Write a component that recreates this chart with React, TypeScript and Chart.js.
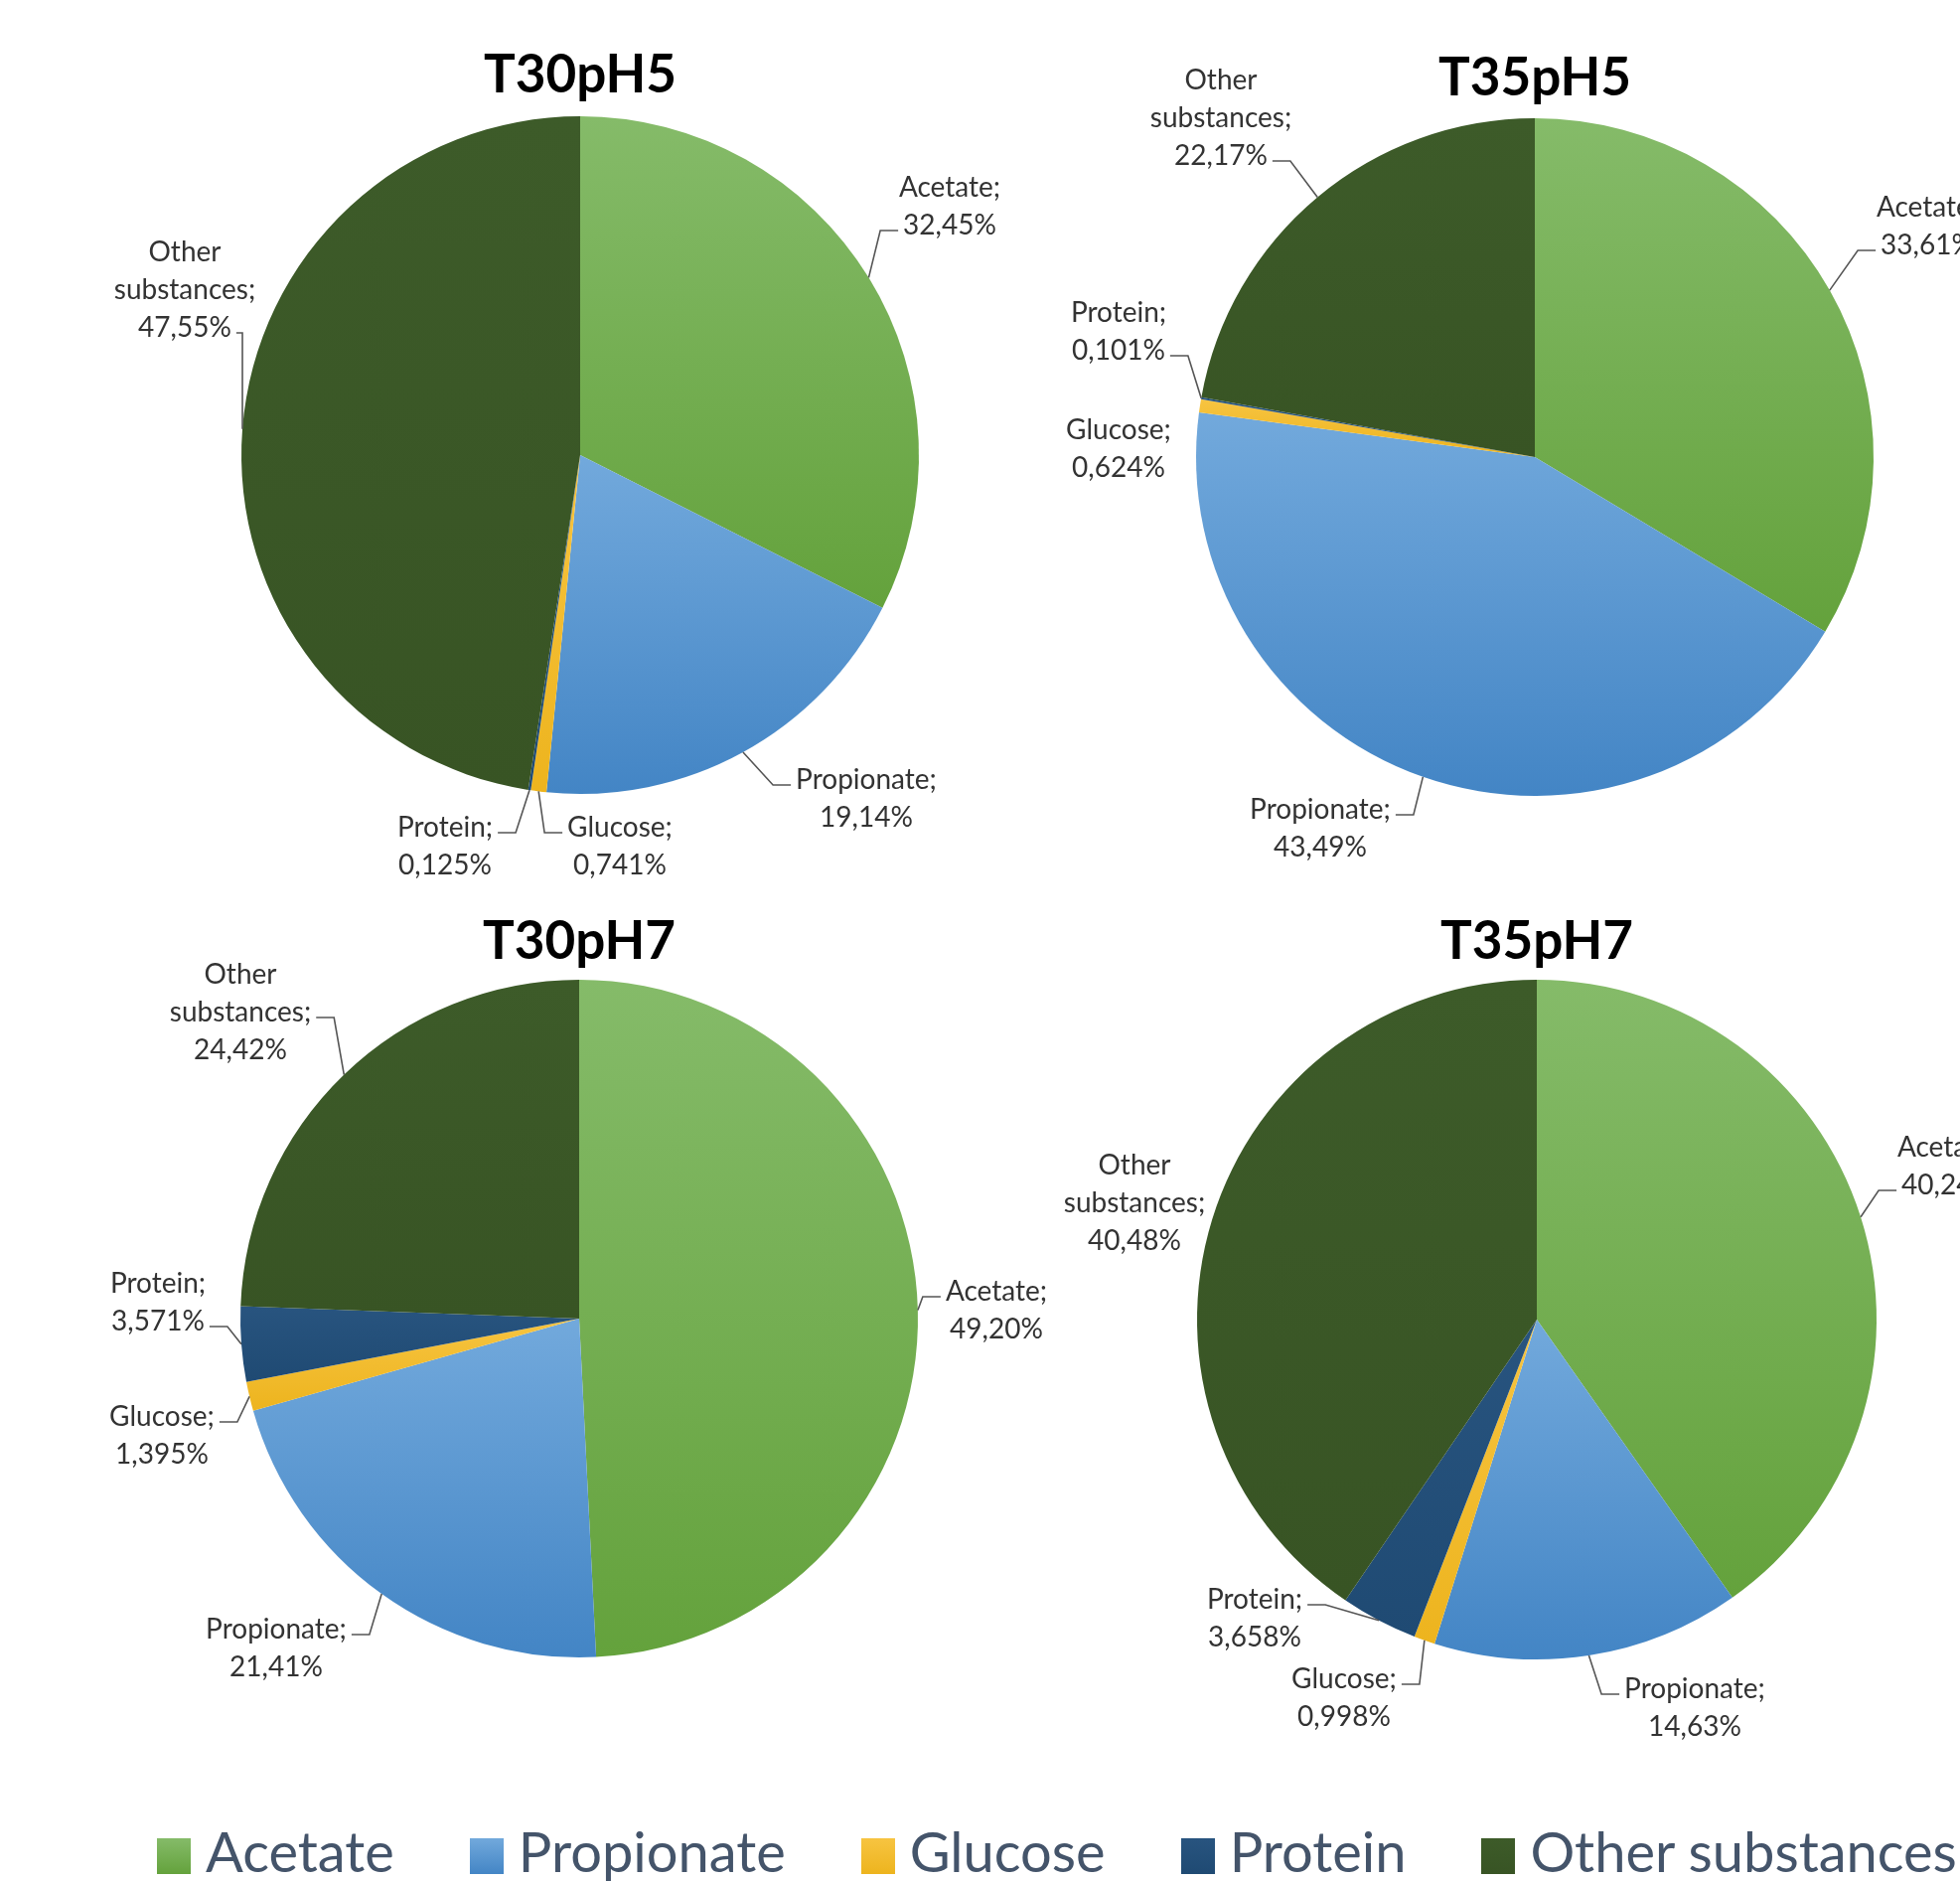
import React, { useEffect, useRef } from "react";
import { Chart, registerables } from "chart.js";

Chart.register(...registerables);

// ---------- data ----------
const categories = ["Acetate", "Propionate", "Glucose", "Protein", "Other substances"];
const chartTitles = ["T30pH5", "T35pH5", "T30pH7", "T35pH7"];
const t30pH5 = [32.45, 19.14, 0.741, 0.125, 47.55];
const t35pH5 = [33.61, 43.49, 0.624, 0.101, 22.17];
const t30pH7 = [49.2, 21.41, 1.395, 3.571, 24.42];
const t35pH7 = [40.24, 14.63, 0.998, 3.658, 40.48];
const seriesValues = [t30pH5, t35pH5, t30pH7, t35pH7];

// ---------- styles ----------
const colorsTop = ["#85BB69", "#72A9DC", "#F7C441", "#28547F", "#3D5B29"];
const colorsBottom = ["#64A23C", "#4385C5", "#EDB41E", "#1F4A73", "#385424"];
const FONT = "Lato, 'Open Sans', 'DejaVu Sans', sans-serif";

// panel geometry (page px)
const panels = [
  { left: 94, top: 0, w: 980, h: 900, cx: 584, cy: 458, r: 341, titleY: 76 },
  { left: 1055, top: 0, w: 980, h: 900, cx: 1545, cy: 460, r: 341, titleY: 79 },
  { left: 93, top: 880, w: 980, h: 930, cx: 583, cy: 1327, r: 341, titleY: 948 },
  { left: 1057, top: 880, w: 980, h: 930, cx: 1547, cy: 1328, r: 342, titleY: 948 },
];

// label placement: offset of label block centre from pie centre (px)
type LabelPos = { dx: number; dy: number; leader?: boolean; line?: number };
const labelLayouts: LabelPos[][] = [
  [
    { dx: 372, dy: -250 },
    { dx: 288, dy: 346 },
    { dx: 40, dy: 394 },
    { dx: -136, dy: 394 },
    { dx: -398, dy: -166 },
  ],
  [
    { dx: 395, dy: -232 },
    { dx: -216, dy: 374 },
    { dx: -419, dy: -8, leader: false },
    { dx: -419, dy: -126 },
    { dx: -316, dy: -341 },
  ],
  [
    { dx: 420, dy: -8 },
    { dx: -305, dy: 332 },
    { dx: -420, dy: 118 },
    { dx: -424, dy: -16 },
    { dx: -341, dy: -308, line: 1 },
  ],
  [
    { dx: 414, dy: -154 },
    { dx: 159, dy: 391 },
    { dx: -194, dy: 381 },
    { dx: -284, dy: 301, line: 0 },
    { dx: -405, dy: -117, leader: false },
  ],
];

const LABEL_SIZE = 28;
const LINE_GAP = 38;
const TITLE_SIZE = 53;
const TITLE_LH = 1.2;

function formatValue(v: number): string {
  const s = v >= 10 ? v.toFixed(2) : v.toFixed(3);
  return s.replace(".", ",") + "%";
}

function labelLines(name: string, v: number): string[] {
  const words = name.split(" ");
  words[words.length - 1] = words[words.length - 1] + ";";
  return [...words, formatValue(v)];
}

// bounding vertical range of a pie sector, for per-slice gradients
function sectorYRange(cy: number, r: number, a0: number, a1: number) {
  const ys = [cy, cy + r * Math.sin(a0), cy + r * Math.sin(a1)];
  for (const k of [-Math.PI / 2, Math.PI / 2, (3 * Math.PI) / 2]) {
    if (k >= a0 && k <= a1) ys.push(cy + r * Math.sin(k));
  }
  return [Math.min(...ys), Math.max(...ys)];
}

function makeLabelPlugin(layout: LabelPos[]) {
  return {
    id: "sliceLabels",
    afterDatasetsDraw(chart: any) {
      const meta = chart.getDatasetMeta(0);
      const values: number[] = chart.data.datasets[0].data;
      const ctx: CanvasRenderingContext2D = chart.ctx;
      ctx.save();
      ctx.font = `${LABEL_SIZE}px ${FONT}`;
      ctx.textAlign = "center";
      ctx.textBaseline = "middle";
      meta.data.forEach((arc: any, i: number) => {
        const p = arc.getProps(["x", "y", "startAngle", "endAngle", "outerRadius"], true);
        const lay = layout[i];
        const lines = labelLines(chart.data.labels[i], values[i]);
        const lx = p.x + lay.dx;
        const ly = p.y + lay.dy;
        const n = lines.length;
        const lineYs = lines.map((_, k) => ly + (k - (n - 1) / 2) * LINE_GAP);
        ctx.fillStyle = "#333333";
        lines.forEach((t, k) => ctx.fillText(t, lx, lineYs[k]));

        if (lay.leader === false) return;
        const mid = (p.startAngle + p.endAngle) / 2;
        const ax = p.x + Math.cos(mid) * p.outerRadius;
        const ay = p.y + Math.sin(mid) * p.outerRadius;
        let li = lay.line;
        if (li === undefined) {
          li = 0;
          lineYs.forEach((yy, k) => {
            if (Math.abs(yy - ay) < Math.abs(lineYs[li!] - ay)) li = k;
          });
        }
        const wLine = ctx.measureText(lines[li]).width;
        const side = ax < lx ? -1 : 1;
        const attX = lx + side * (wLine / 2 + 5);
        const attY = lineYs[li] + 5;
        const stub = Math.min(18, Math.abs(ax - attX));
        const elbowX = attX + side * stub;
        ctx.strokeStyle = "#555555";
        ctx.lineWidth = 1.6;
        ctx.beginPath();
        ctx.moveTo(ax, ay);
        ctx.lineTo(elbowX, attY);
        ctx.lineTo(attX, attY);
        ctx.stroke();
      });
      ctx.restore();
    },
  };
}

function PiePanel({ index }: { index: number }) {
  const ref = useRef<HTMLCanvasElement>(null);
  const pn = panels[index];
  useEffect(() => {
    const canvas = ref.current;
    if (!canvas) return;
    const lh = TITLE_SIZE * TITLE_LH;
    const padTop = pn.titleY - pn.top - lh / 2;
    const padBottom = pn.cy - pn.r - pn.top - padTop - lh;
    const side = (pn.w - 2 * pn.r) / 2;
    const bottom = pn.h - (pn.cy + pn.r - pn.top);
    const values = seriesValues[index];

    const bg = (c: any) => {
      const i = c.dataIndex;
      const chart = c.chart;
      const area = chart.chartArea;
      if (i === undefined || !area) return colorsTop[i ?? 0];
      const total = values.reduce((a, b) => a + b, 0);
      let acc = 0;
      for (let k = 0; k < i; k++) acc += values[k];
      const a0 = -Math.PI / 2 + (acc / total) * 2 * Math.PI;
      const a1 = a0 + (values[i] / total) * 2 * Math.PI;
      const cy = (area.top + area.bottom) / 2;
      const r = Math.min(area.right - area.left, area.bottom - area.top) / 2;
      const [y0, y1] = sectorYRange(cy, r, a0, a1);
      const g = chart.ctx.createLinearGradient(0, y0, 0, Math.max(y1, y0 + 1));
      g.addColorStop(0, colorsTop[i]);
      g.addColorStop(1, colorsBottom[i]);
      return g;
    };

    const chart = new Chart(canvas, {
      type: "pie",
      data: {
        labels: categories,
        datasets: [
          {
            data: values,
            backgroundColor: bg,
            borderWidth: 0,
            hoverOffset: 0,
            hoverBorderWidth: 0,
          },
        ],
      },
      options: {
        animation: false,
        responsive: false,
        maintainAspectRatio: false,
        events: [],
        layout: { padding: { top: 0, left: side, right: side, bottom } },
        plugins: {
          legend: { display: false },
          tooltip: { enabled: false },
          title: {
            display: true,
            text: chartTitles[index],
            color: "#000000",
            font: { family: FONT, size: TITLE_SIZE, weight: "bold", lineHeight: TITLE_LH },
            padding: { top: padTop, bottom: padBottom },
          },
        },
      },
      plugins: [makeLabelPlugin(labelLayouts[index])],
    } as any);
    return () => chart.destroy();
  }, []);
  return (
    <canvas
      ref={ref}
      width={pn.w}
      height={pn.h}
      style={{ position: "absolute", left: pn.left, top: pn.top, width: pn.w, height: pn.h }}
    />
  );
}

function Legend() {
  return (
    <div
      style={{
        position: "absolute",
        left: 158,
        top: 1835,
        display: "flex",
        flexWrap: "nowrap",
        whiteSpace: "nowrap",
        alignItems: "flex-start",
        gap: 76,
        fontFamily: FONT,
        fontSize: 56,
        lineHeight: "56px",
        color: "#44546A",
      }}
    >
      {categories.map((c, i) => (
        <div key={c} style={{ display: "flex", alignItems: "flex-start" }}>
          <span
            style={{
              display: "inline-block",
              width: 34,
              height: 36,
              marginTop: 15,
              marginRight: 15,
              background: `linear-gradient(${colorsTop[i]}, ${colorsBottom[i]})`,
            }}
          />
          <span>{c}</span>
        </div>
      ))}
    </div>
  );
}

export default function App() {
  return (
    <div
      style={{
        position: "fixed",
        left: 0,
        top: 0,
        width: 1973,
        height: 1893,
        overflow: "hidden",
        background: "#ffffff",
      }}
    >
      {panels.map((_, i) => (
        <PiePanel key={i} index={i} />
      ))}
      <Legend />
    </div>
  );
}
